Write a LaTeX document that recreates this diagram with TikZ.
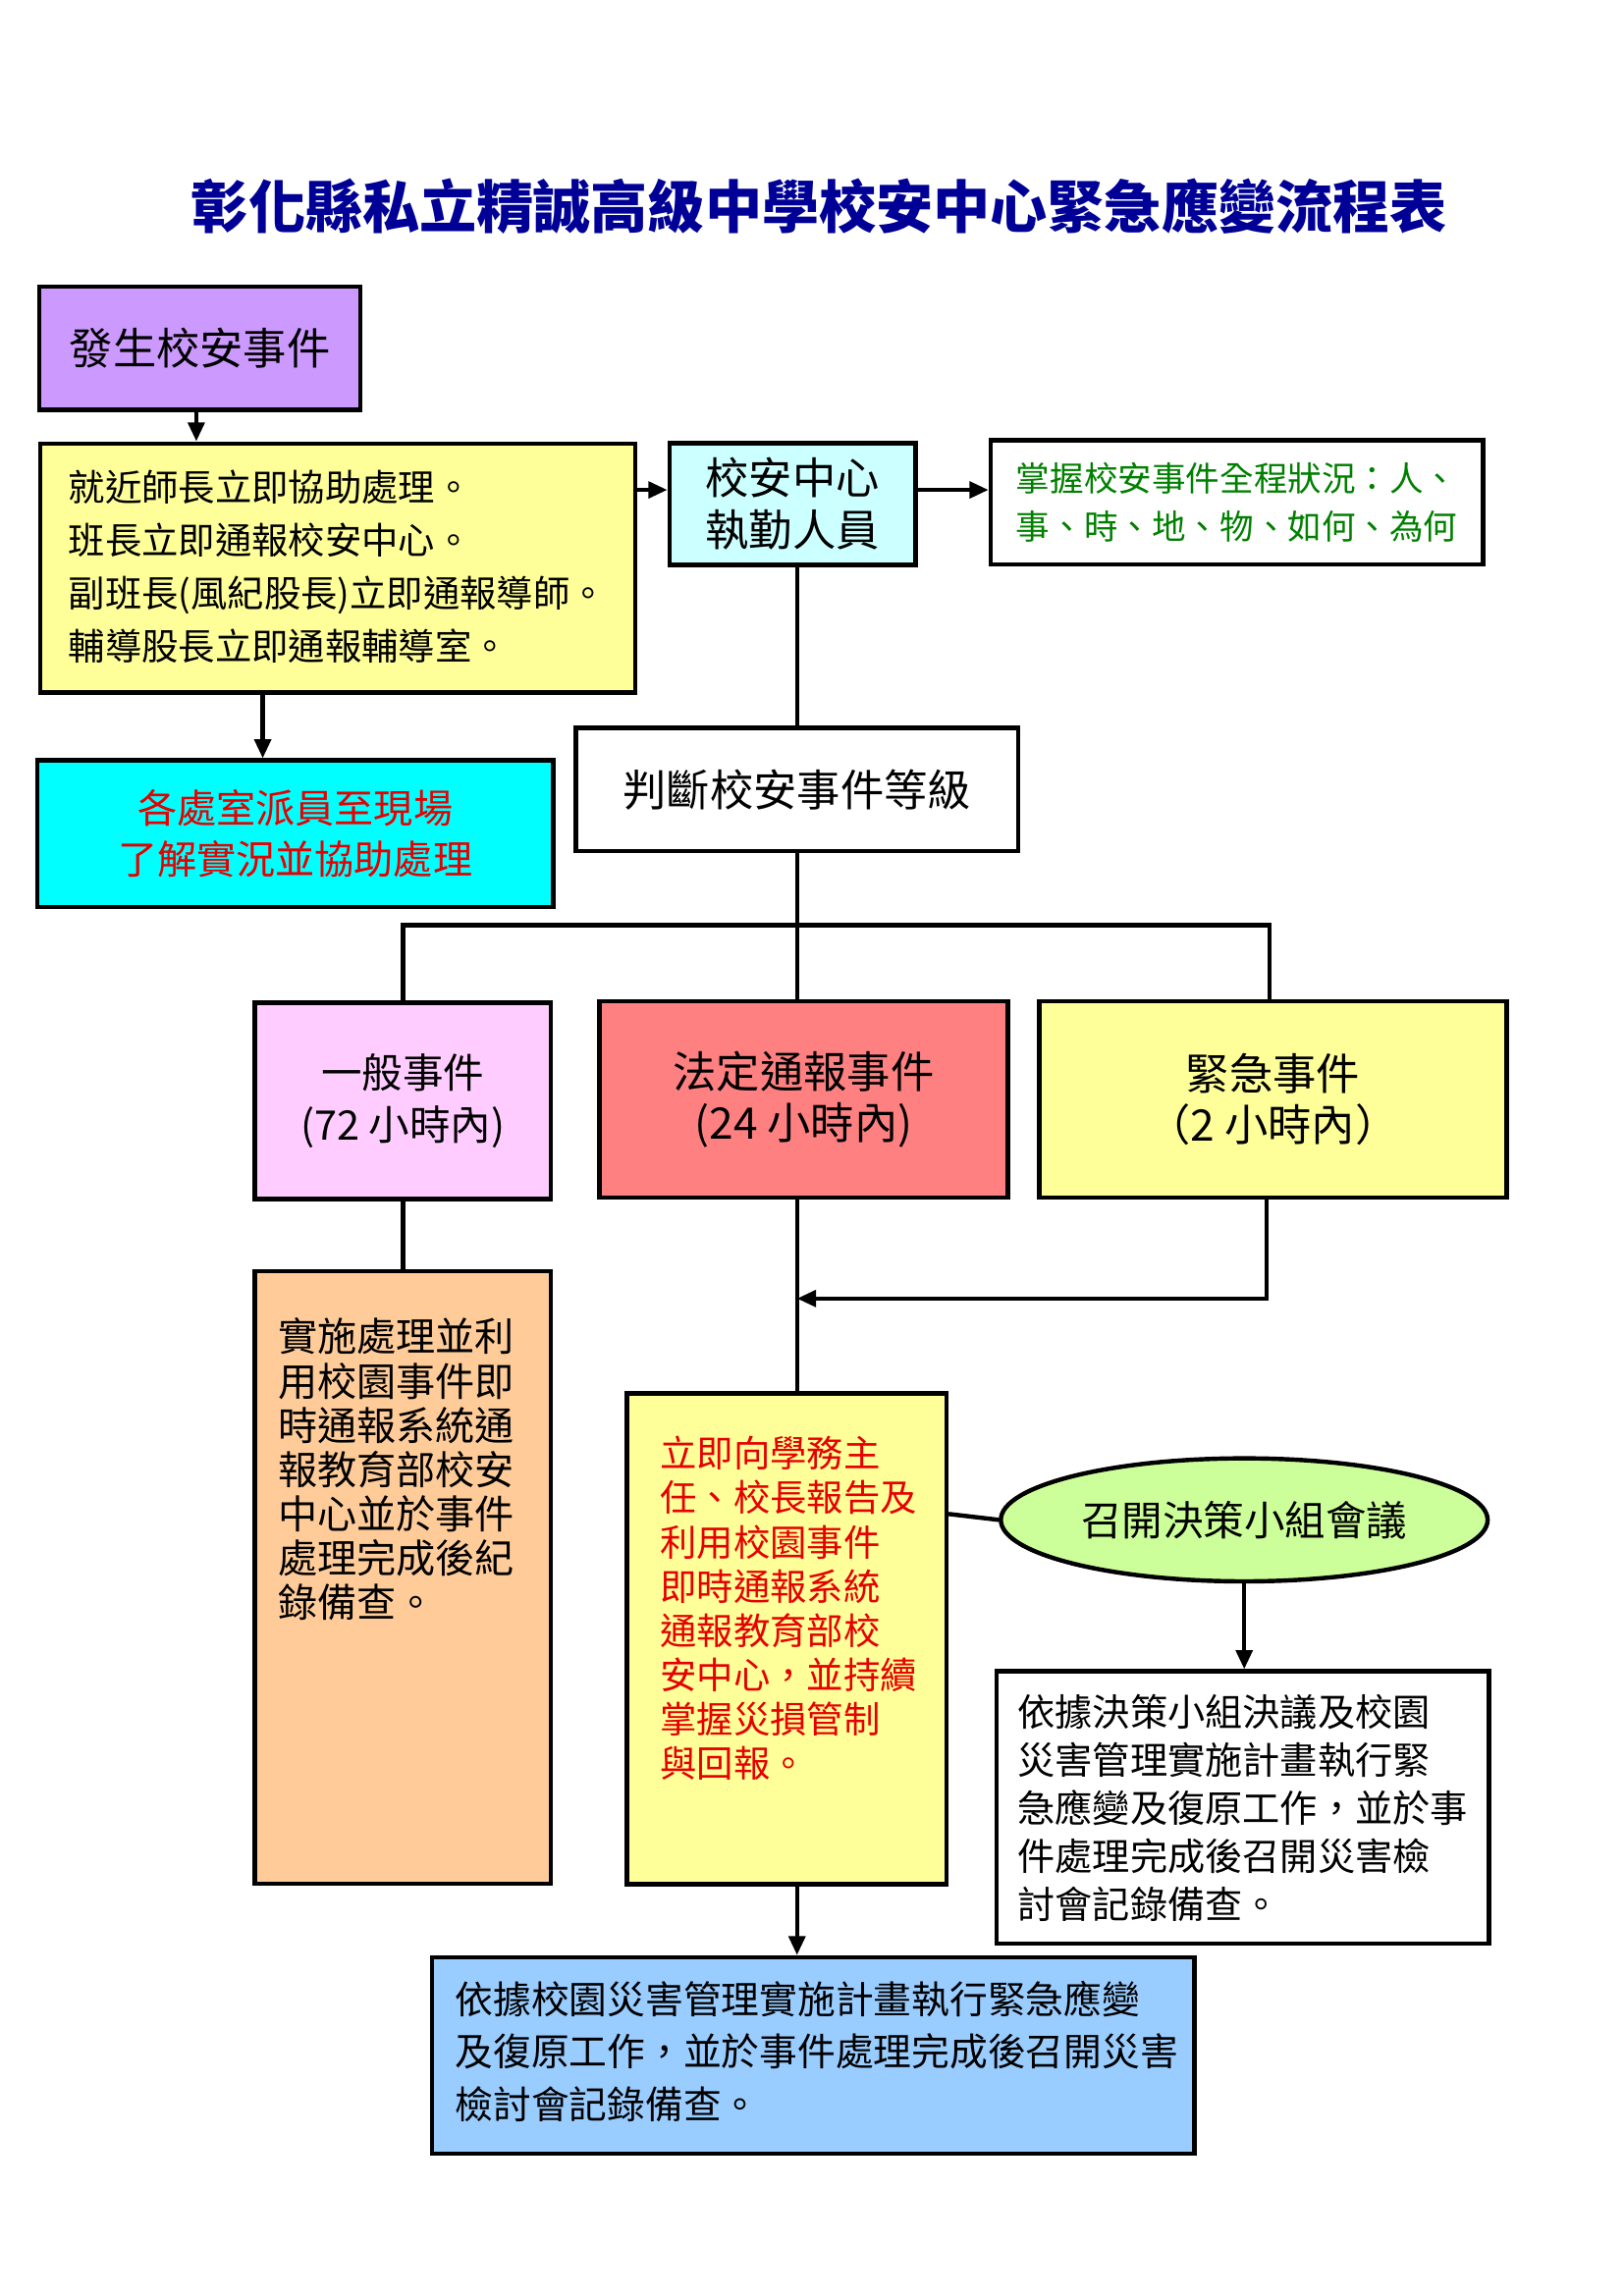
\documentclass[tikz,border=0pt]{standalone}
\usepackage{fontspec}
\setmainfont{Noto Sans CJK TC}
\usepackage{tikz}
\usetikzlibrary{arrows.meta, shapes.geometric, positioning, calc}
\definecolor{boxpurple}{RGB}{204,153,255}
\definecolor{boxyellow}{RGB}{255,255,153}
\definecolor{boxlcyan}{RGB}{204,255,255}
\definecolor{boxcyan}{RGB}{0,255,255}
\definecolor{boxpink}{RGB}{255,204,255}
\definecolor{boxred}{RGB}{255,128,128}
\definecolor{boxorange}{RGB}{255,204,153}
\definecolor{boxgreen}{RGB}{204,255,153}
\definecolor{boxblue}{RGB}{153,204,255}
\definecolor{titleblue}{RGB}{0,0,150}
\definecolor{txtgreen}{RGB}{0,128,0}
\definecolor{txtred}{RGB}{230,0,0}
\def\u{0.01895cm}
\tikzset{
  box/.style 2 args={draw, line width=1.6pt, rectangle, inner sep=0pt,
    minimum width=#1*\u, minimum height=#2*\u, align=center},
  txt/.style={anchor=north west, align=left, inner sep=0pt},
  conn/.style={line width=1.6pt},
  arr/.style={line width=1.6pt, -{Triangle[length=7pt,width=6pt]}}
}
\begin{document}
\begin{tikzpicture}[x=0.01909cm, y=-0.01909cm]
    \useasboundingbox (0,0) rectangle (1100,1556);
    % title
    \node[text=titleblue, font=\fontsize{21}{24}\selectfont\bfseries] (T) at (555,140) {彰化縣私立精誠高級中學校安中心緊急應變流程表};

    % upper part
    \node[box={219}{84}, fill=boxpurple, font=\fontsize{16}{20}\selectfont] (S) at (135.5,236) {發生校安事件};
    \node[box={406}{170}, fill=boxyellow] (H) at (229,385) {};
    \node[txt, font=\fontsize{13.5}{19.5}\selectfont] (Ht) at (46,318) {就近師長立即協助處理。\\班長立即通報校安中心。\\副班長(風紀股長)立即通報導師。\\輔導股長立即通報輔導室。};
    \node[box={168}{83}, fill=boxlcyan, font=\fontsize{16}{19}\selectfont] (C) at (537,341.5) {校安中心\\執勤人員};
    \node[box={336}{85}, fill=white, text=txtgreen, align=left, font=\fontsize{12.5}{17.5}\selectfont] (G) at (838,340.5) {掌握校安事件全程狀況：人、\\事、時、地、物、如何、為何};
    \node[box={352}{100}, fill=boxcyan, text=txtred, font=\fontsize{14.5}{19}\selectfont] (R) at (200,565) {各處室派員至現場\\了解實況並協助處理};
    \node[box={302}{84}, fill=white, font=\fontsize{16}{20}\selectfont] (J) at (540,535) {判斷校安事件等級};

    % three levels
    \node[box={202}{134}, fill=boxpink, font=\fontsize{15}{19}\selectfont] (L1) at (273,746) {一般事件\\(72 小時內)};
    \node[box={279}{134}, fill=boxred, font=\fontsize{16}{19}\selectfont] (L2) at (544.5,745) {法定通報事件\\(24 小時內)};
    \node[box={319}{134}, fill=boxyellow, font=\fontsize{16}{19}\selectfont] (L3) at (862.5,745) {緊急事件\\（2 小時內）};

    % lower part
    \node[box={202}{418}, fill=boxorange] (P1) at (273,1069) {};
    \node[txt, font=\fontsize{14.5}{16.3}\selectfont] (P1t) at (188,893) {實施處理並利\\用校園事件即\\時通報系統通\\報教育部校安\\中心並於事件\\處理完成後紀\\錄備查。};
    \node[box={218}{335}, fill=boxyellow] (P2) at (533,1110.5) {};
    \node[txt, text=txtred, font=\fontsize{13.5}{16.3}\selectfont] (P2t) at (447,973) {立即向學務主\\任、校長報告及\\利用校園事件\\即時通報系統\\通報教育部校\\安中心，並持續\\掌握災損管制\\與回報。};
    \node[draw, ellipse, line width=1.6pt, fill=boxgreen, minimum width=300*\u, minimum height=84*\u, font=\fontsize{15}{19}\selectfont] (E) at (843,1030) {召開決策小組會議};
    \node[box={336}{186}, fill=white, align=left, font=\fontsize{13.8}{17.7}\selectfont] (D) at (842,1225) {依據決策小組決議及校園\\災害管理實施計畫執行緊\\急應變及復原工作，並於事\\件處理完成後召開災害檢\\討會記錄備查。};
    \node[box={520}{134}, fill=boxblue] (F) at (551,1393) {};
    \node[txt, font=\fontsize{14}{19.3}\selectfont] (Ft) at (308,1342) {依據校園災害管理實施計畫執行緊急應變\\及復原工作，並於事件處理完成後召開災害\\檢討會記錄備查。};

    % connectors
    \coordinate (m1) at (540,880);
    \draw[arr] (S.south -| 133,0) -- (H.north -| 133,0);
    \draw[arr] (H.east |- 0,332) -- (C.west |- 0,332);
    \draw[arr] (C.east |- 0,332) -- (G.west |- 0,332);
    \draw[arr] (H.south -| 178,0) -- (R.north -| 178,0);
    \draw[conn] (C.south -| 540,0) -- (J.north -| 540,0);
    \draw[conn] (J.south -| 540,0) -- (L2.north -| 540,0);
    \draw[conn] (L1.north) |- (540,627) -| (L3.north -| 860,0);
    \draw[conn] (L1.south) -- (P1.north);
    \draw[conn] (L2.south -| 540,0) -- (P2.north -| 540,0);
    \draw[arr] (L3.south -| 858,0) |- (m1);
    \draw[conn] (P2.east |- 0,1026) -- (E.west);
    \draw[arr] (E.south) -- (D.north -| E.south);
    \draw[arr] (P2.south -| 540,0) -- (F.north -| 540,0);
\end{tikzpicture}
\end{document}
